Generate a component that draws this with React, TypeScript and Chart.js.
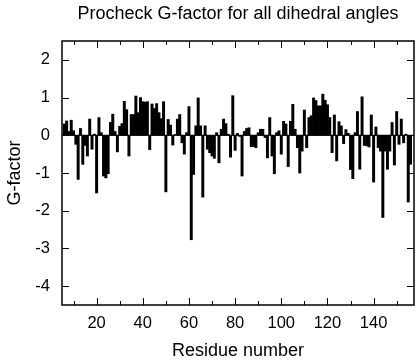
import React, { useEffect, useRef } from 'react';
import { Chart, registerables } from 'chart.js';

Chart.register(...registerables);

// ---- data ----
const chartTitle = 'Procheck G-factor for all dihedral angles';
const xTitle = 'Residue number';
const yTitle = 'G-factor';

const firstResidue = 6;
const gFactor = [
  0.30, 0.38, 0.10, 0.40, 0.12, -0.24, -1.17, 0.18, -0.77, -0.27, // 6-15
  -0.55, 0.43, -0.37, 0.03, -1.53, 0.47, 0.07, -1.08, -1.13, -1.02, // 16-25
  0.34, 0.56, 0.10, -0.44, 0.24, 0.31, 0.90, 0.68, -0.55, 0.55, // 26-35
  0.55, 1.04, 0.60, 1.00, 0.89, 0.88, 0.89, -0.38, 0.83, 0.71, // 36-45
  0.84, 0.60, 0.44, 0.89, -1.50, 0.42, 0.27, -0.26, 0.02, 0.43, // 46-55
  0.55, -0.20, -0.50, 0.07, 0.76, -2.77, -1.04, 0.25, 0.99, 0.25, // 56-65
  -1.64, 0.25, -0.37, -0.46, -0.55, -0.61, 0.07, -0.73, 0.16, 0.43, // 66-75
  0.31, 0.03, -0.58, 1.05, -0.40, 0.05, -0.03, -1.08, 0.10, 0.18, // 76-85
  0.20, -0.30, -0.30, -0.33, 0.07, 0.16, 0.16, -0.06, -0.60, 0.47, // 86-95
  -0.55, -1.02, 0.07, 0.12, -0.50, 0.37, 0.30, -0.83, 0.37, 0.82, // 96-105
  0.16, -0.33, -1.00, -0.42, 0.67, -0.33, 0.47, 0.52, 0.99, 0.92, // 106-115
  0.78, 0.78, 1.09, 0.93, 0.81, 0.47, -0.46, 0.54, -0.68, 0.36, // 116-125
  0.25, -0.22, 0.15, 0.05, -0.91, -1.15, 0.07, 0.63, -0.90, 1.02, // 126-135
  -0.27, -0.28, -0.31, 0.54, -1.24, 0.22, -0.33, -0.42, -2.18, -0.42, // 136-145
  -0.90, -0.42, 0.34, -0.79, 0.63, -0.24, 0.43, -0.20, 0.03, -1.77, // 146-155
  -0.77, // 156
];

const xLabelTicks = [20, 40, 60, 80, 100, 120, 140];
const xMinorTicks = [10, 30, 50, 70, 90, 110, 130, 150];
const yTicks = [-4, -3, -2, -1, 0, 1, 2];
const xMin = 5;
const xMax = 157.5;
const yMin = -4.5;
const yMax = 2.5;

const FONT = "'Liberation Sans', Arial, Helvetica, sans-serif";

const framePlugin = {
  id: 'gnuFrame',
  beforeDatasetsDraw(chart: any) {
    const { ctx, chartArea: a, scales } = chart;
    const y0 = scales.y.getPixelForValue(0);
    ctx.save();
    ctx.strokeStyle = '#000';
    ctx.lineWidth = 1;
    ctx.beginPath();
    ctx.moveTo(a.left, y0);
    ctx.lineTo(a.right, y0);
    ctx.stroke();
    ctx.restore();
  },
  afterDatasetsDraw(chart: any) {
    const { ctx, chartArea: a, scales } = chart;
    const x = scales.x;
    const y = scales.y;
    ctx.save();
    ctx.strokeStyle = '#000';
    ctx.lineWidth = 1;
    ctx.beginPath();
    const major = 7;
    const minor = 4;
    xLabelTicks.forEach((v) => {
      const px = Math.round(x.getPixelForValue(v)) + 0.5;
      ctx.moveTo(px, a.bottom);
      ctx.lineTo(px, a.bottom - major);
      ctx.moveTo(px, a.top);
      ctx.lineTo(px, a.top + major);
    });
    xMinorTicks.forEach((v) => {
      const px = Math.round(x.getPixelForValue(v)) + 0.5;
      ctx.moveTo(px, a.bottom);
      ctx.lineTo(px, a.bottom - minor);
      ctx.moveTo(px, a.top);
      ctx.lineTo(px, a.top + minor);
    });
    yTicks.forEach((v) => {
      const py = Math.round(y.getPixelForValue(v)) + 0.5;
      ctx.moveTo(a.left, py);
      ctx.lineTo(a.left + major, py);
      ctx.moveTo(a.right, py);
      ctx.lineTo(a.right - major, py);
    });
    ctx.stroke();
    ctx.lineWidth = 1.5;
    ctx.strokeRect(a.left, a.top, a.right - a.left, a.bottom - a.top);
    ctx.restore();
  },
};

export default function App() {
  const ref = useRef<HTMLCanvasElement | null>(null);

  useEffect(() => {
    if (!ref.current) return;
    const points = gFactor.map((v, i) => ({ x: firstResidue + i, y: v }));
    const chart = new Chart(ref.current, {
      type: 'bar',
      data: {
        datasets: [
          {
            data: points as any,
            backgroundColor: '#000',
            borderWidth: 0,
            barPercentage: 1,
            categoryPercentage: 1,
          },
        ],
      },
      options: {
        animation: false,
        responsive: false,
        devicePixelRatio: 1,
        layout: { padding: { left: 0, right: 2, top: 0, bottom: 0 } },
        plugins: {
          legend: { display: false },
          tooltip: { enabled: false },
          title: {
            display: true,
            fullSize: false,
            text: chartTitle,
            color: '#000',
            font: { family: FONT, size: 18, weight: 'normal', lineHeight: 1.2 },
            padding: { top: 3, bottom: 16.4 },
          },
        },
        scales: {
          x: {
            type: 'linear',
            min: xMin,
            max: xMax,
            offset: false,
            grid: { display: false, drawTicks: false },
            border: { display: false },
            afterBuildTicks: (scale: any) => {
              scale.ticks = xLabelTicks.map((v) => ({ value: v }));
            },
            afterFit: (scale: any) => {
              scale.height = 55;
            },
            ticks: {
              color: '#000',
              padding: 9,
              maxRotation: 0,
              autoSkip: false,
              font: { family: FONT, size: 16.5 },
              callback: (v: any) => String(v),
            },
            title: {
              display: true,
              text: xTitle,
              color: '#000',
              font: { family: FONT, size: 18, lineHeight: 1 },
              padding: { top: 0, bottom: 0 },
            },
          },
          y: {
            type: 'linear',
            min: yMin,
            max: yMax,
            grid: { display: false, drawTicks: false },
            border: { display: false },
            afterBuildTicks: (scale: any) => {
              scale.ticks = yTicks.map((v) => ({ value: v }));
            },
            afterFit: (scale: any) => {
              scale.width = 62;
            },
            ticks: {
              color: '#000',
              padding: 12,
              autoSkip: false,
              font: { family: FONT, size: 16.5 },
              callback: (v: any) => String(v),
            },
            title: {
              display: true,
              text: yTitle,
              color: '#000',
              font: { family: FONT, size: 18, lineHeight: 1 },
              padding: { top: 6, bottom: 0 },
            },
          },
        },
      },
      plugins: [framePlugin],
    });
    return () => chart.destroy();
  }, []);

  return (
    <div style={{ position: 'absolute', left: 0, top: 0, width: 416, height: 360, background: '#fff' }}>
      <canvas ref={ref} width={416} height={360} style={{ width: 416, height: 360 }} />
    </div>
  );
}
